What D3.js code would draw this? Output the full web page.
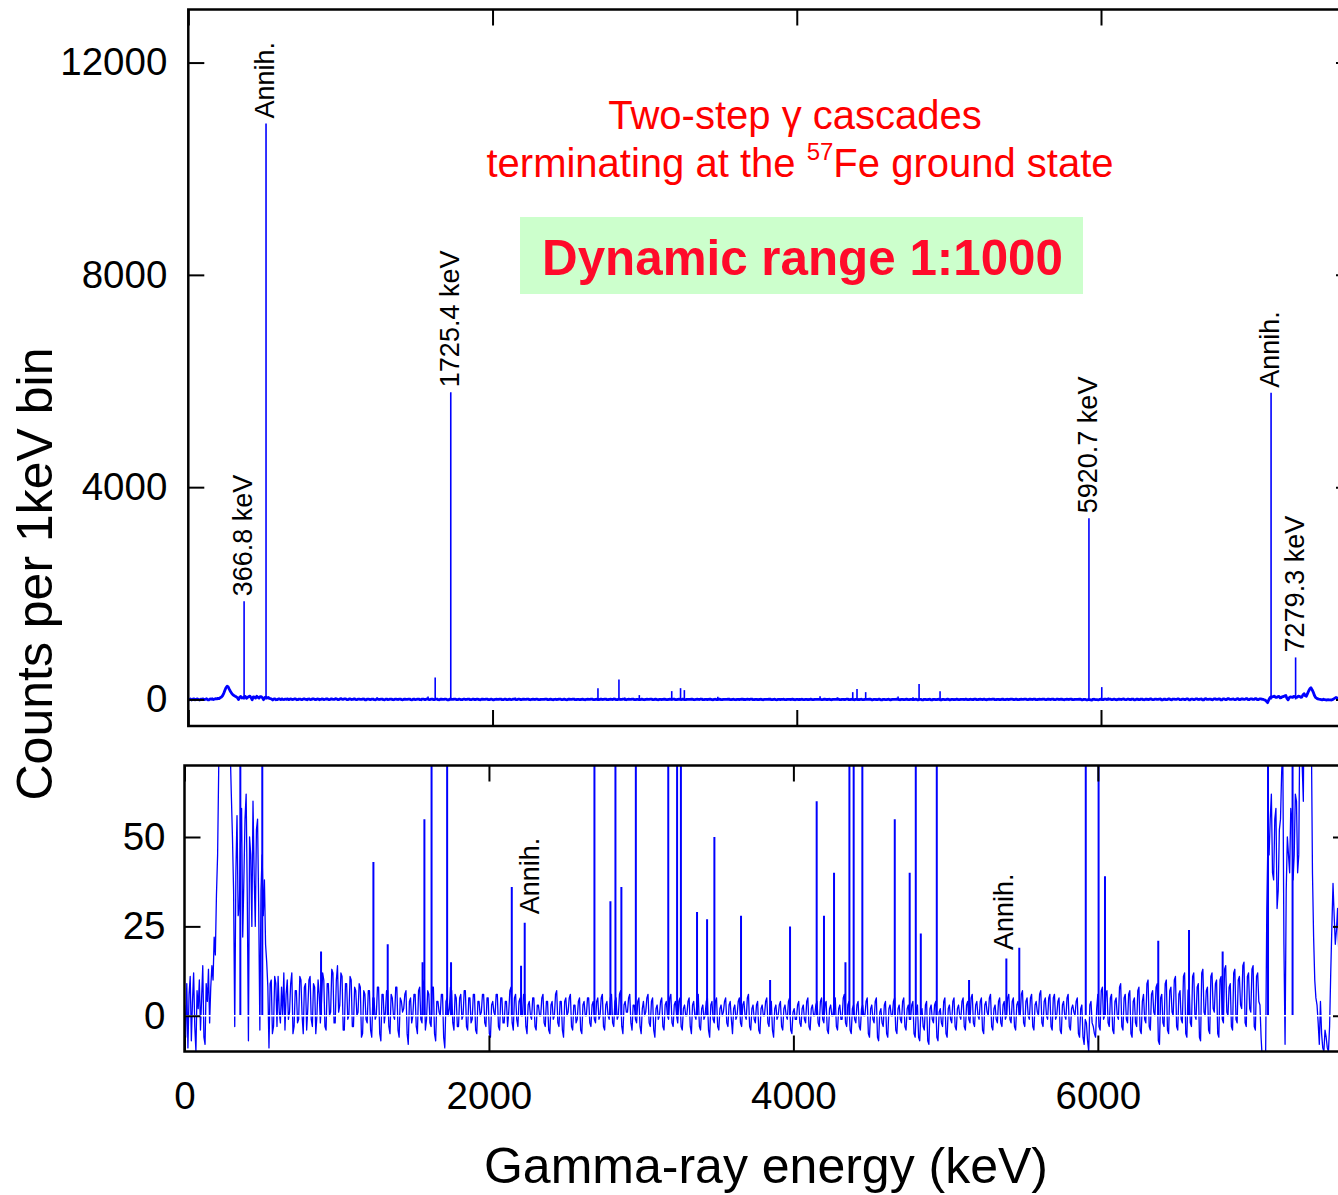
<!DOCTYPE html>
<html>
<head>
<meta charset="utf-8">
<script src="https://cdn.jsdelivr.net/npm/d3@7"></script>
<style>
  body { margin: 0; background: #fff; }
  svg { display: block; }
  text { font-family: "Liberation Sans", Arial, Helvetica, sans-serif; }
</style>
</head>
<body>
<svg id="chart" width="1338" height="1195"></svg>
<script>
// ---- spectrum: continuum sampled every 7.5 keV (counts per 1 keV bin) ----
const bgStart = 0;
const bgStep = 7.5;
const bgCounts = [
  // 0-292.5
  3,-6,9,-9,6,11,-7,4,12,-3, -10,7,2,10,-4,5,14,-6,-8,9,
  4,13,-2,8,14,10,22,17,34,45, 70,110,170,220,250,235,190,150,115,90,
  // 300-592.5
  75,62,50,35,-3,40,56,28,30,48, 58,22,38,55,62,33,-7,50,45,25,
  60,40,25,52,55,30,-4,35,45,28, 38,20,15,8,-9,9,10,-5,-3,11,
  // 600-892.5
  9,-3,11,1,-2,8,0,12,-4,6, 10,-1,1,9,12,-5,-3,7,7,-2,
  -1,11,10,0,-5,8,9,-4,2,10, 11,-1,-3,9,8,-5,0,10,6,-2,
  // 900-1192.5
  4,12,10,-3,-4,9,9,0,1,13, 12,-2,-2,10,14,1,3,12,11,-4,
  -4,9,9,-1,0,11,10,-3,-3,8, 7,0,1,9,8,-6,-5,7,6,-1,
  // 1200-1492.5
  -2,7,7,-4,-6,5,5,-1,0,8, 8,-5,-7,6,6,-2,1,7,7,-3,
  -5,6,5,0,-1,8,8,-4,-6,5, 4,1,2,6,7,-5,-8,4,5,-2,
  // 1500-1792.5
  0,6,6,-3,-5,7,8,-1,-2,9, 10,-4,-1,7,6,-2,-3,8,8,-5,
  -7,4,4,1,0,6,6,-6,-9,4, 5,0,2,8,7,-2,-4,6,5,-3,
  // 1800-2092.5
  -3,5,6,-1,0,7,7,-3,-4,5, 5,-2,-1,6,6,-4,-5,4,4,0,
  1,6,6,-2,-3,5,5,-5,-6,3, 4,1,0,6,6,-3,-4,5,5,-2,
  // 2100-2392.5
  -2,4,4,-3,1,7,8,-2,-4,5, 6,-1,-3,4,5,0,0,6,6,-3,
  -5,3,4,0,-1,5,5,-3,-4,3, 3,0,0,5,6,-2,-3,4,4,-4,
  // 2400-2692.5
  -5,3,4,-1,0,6,7,-2,-3,4, 4,-4,-6,4,5,0,1,5,6,-3,
  -4,3,3,-2,-1,4,5,-4,-5,3, 4,0,0,5,5,-2,-3,3,4,-1,
  // 2700-2992.5
  -2,4,5,-1,0,5,6,-3,-4,3, 4,0,-1,5,6,-2,-3,4,5,-1,
  0,6,7,-3,-5,3,4,1,1,5, 6,-2,-4,3,3,-1,-2,4,5,-3,
  // 3000-3292.5
  -5,2,4,0,1,5,6,-2,-3,4, 5,-4,-6,2,3,-1,0,4,5,-3,
  -4,3,4,0,-1,5,6,-2,-3,3, 4,0,-2,4,5,-3,-4,2,3,0,
  // 3300-3592.5
  0,4,5,-3,-5,3,4,0,-1,5, 6,-3,-4,2,3,-1,0,4,5,-4,
  -6,3,4,-1,-2,4,5,-3,-4,2, 3,0,1,4,5,-2,-3,3,4,-1,
  // 3600-3892.5
  -5,2,3,-1,0,4,5,-2,-3,3, 4,0,-1,5,6,-3,-4,2,3,-1,
  -2,3,4,-4,-5,2,3,0,0,4, 5,-2,-3,3,4,-4,-6,2,3,-1,
  // 3900-4192.5
  0,3,4,-3,-4,2,3,0,-1,4, 5,-4,-5,1,2,-1,-1,3,4,-2,
  -3,2,3,-1,-2,4,5,-3,-4,2, 3,0,0,3,4,-2,-3,4,5,-1,
  // 4200-4492.5
  -2,3,4,-4,-5,2,3,0,0,4, 5,-3,-4,2,3,-1,-1,5,6,-2,
  -3,3,4,-4,-5,2,3,-1,-2,3, 4,-3,-4,2,3,0,0,4,5,-5,
  // 4500-4792.5
  -6,2,3,-1,-2,4,5,-6,-7,1, 2,-2,-3,3,4,-5,-6,2,3,0,
  0,4,5,-4,-5,2,3,-1,-2,4, 5,-3,-4,2,3,-1,-1,3,4,-5,
  // 4800-5092.5
  -6,2,3,-6,-7,1,2,-3,-4,3, 4,-7,-8,2,3,-1,-2,3,4,-6,
  -7,1,2,-2,-3,4,5,-5,-6,2, 3,-1,-2,4,5,-3,-4,2,3,0,
  // 5100-5392.5
  -1,4,5,-3,-4,3,4,-1,-2,5, 6,-2,-3,3,4,0,-1,4,5,-4,
  -5,3,4,1,0,5,6,-3,-4,2, 3,-1,-2,4,5,-2,-3,3,4,-1,
  // 5400-5692.5
  0,5,6,-1,-2,4,5,-3,-4,3, 4,1,0,6,7,-2,-3,4,5,0,
  -1,5,6,-3,-4,3,4,1,0,6, 7,-2,-3,4,5,0,-1,5,6,-3,
  // 5700-5992.5
  -4,5,6,-1,0,4,5,-4,-5,3, 4,0,-1,5,6,-3,-4,2,3,1,
  0,4,5,-5,-6,2,3,-6,-8,-1, -2,-7,-10,3,4,-2,-3,-5,-6,2,
  // 6000-6292.5
  6,-3,-4,7,8,-1,0,6,7,-2, -3,5,6,-4,-5,4,5,0,-1,8,
  9,-3,-4,5,6,-1,-2,6,7,-5, -6,4,5,-2,-3,7,8,-4,-5,4,
  // 6300-6592.5
  6,-1,-2,9,10,-3,-4,6,7,1, 0,8,9,-7,-8,5,6,-2,-3,9,
  10,-4,-5,7,8,1,0,10,11,-3, -4,6,7,-1,-2,11,12,-5,-6,7,
  // 6600-6892.5
  8,-2,-3,11,12,0,-1,8,9,-6, -7,12,13,1,0,7,8,-4,-5,11,
  12,2,1,9,10,-5,-6,10,11,-1, -2,13,14,1,0,8,9,-3,-4,12,
  // 6900-7192.5
  13,-1,-2,10,11,3,2,14,15,-2, -3,11,12,2,1,13,14,-3,-4,11,
  12,4,3,-6,-12,-35,-60,-10,30,50, 45,55,62,40,38,55,58,30,35,52,
  // 7200-7492.5
  55,68,75,20,-8,35,50,45,40,58, 55,38,45,62,60,40,45,85,110,70,
  60,110,160,200,220,185,140,80,40,22, 10,5,3,-2,-8,4,-5,-9,-10,-4,
  // 7500-7642.5
  -6,-9,-10,-3,12,25,37,28,20,24, 30,18,10,20,25,17,15,22,20,18
];

// ---- discrete gamma lines: energy (keV) and peak counts ----
const peakEnergy = [366.8, 511, 897, 1241, 1335, 1564, 1576, 1623, 1725.4, 1751,
  2150, 2211, 2235, 2693, 2798, 2831, 2870, 2965, 3178, 3236, 3261, 3367, 3433,
  3481, 3656, 3847, 3978, 4153, 4201, 4267, 4342, 4368, 4396, 4453, 4666, 4764,
  4804, 4837, 4942, 5154, 5399, 5484, 5920.7, 6005, 6047, 6397, 6599, 6820,
  7118, 7279.3];
const peakCounts = [1850, 10850, 18, 43, 20, 15, 55, 415, 5790, 15,
  36, 14, 26, 213, 32, 376, 36, 82, 157, 213, 176, 29, 27,
  50, 28, 10, 25, 60, 28, 40, 15, 138, 195, 138, 55, 40,
  289, 23, 157, 10, 16, 19, 3415, 233, 39, 21, 24, 18,
  5780, 792];

// ---- annotations ----
const topLabelText = ["366.8 keV", "Annih.", "1725.4 keV", "5920.7 keV", "Annih.", "7279.3 keV"];
const topLabelEnergy = [366.8, 511, 1725.4, 5920.7, 7118, 7279.3];
const topLabelCounts = [1850, 10850, 5790, 3415, 5780, 792];
const botLabelText = ["Annih.", "Annih."];
const botLabelEnergy = [2279, 5392];
const botLabelCounts = [27, 17];

// ---- axes ----
const xTickValues = [0, 2000, 4000, 6000];
const topYTicks = [0, 4000, 8000, 12000];
const botYTicks = [0, 25, 50];
const xMax = 7650;

const blue = "#0000ff";
const svg = d3.select("#chart");

const spectrum = bgCounts.map((c, i) => ({ e: bgStart + i * bgStep, c }));
const peaks = peakEnergy.map((e, i) => ({ e, c: peakCounts[i] }));

const topBox = { x0: 188.3, x1: 1352, y0: 9.5, y1: 726 };
const botBox = { x0: 184.5, x1: 1349, y0: 765.5, y1: 1051.5 };

const xTop = d3.scaleLinear().domain([0, xMax]).range([topBox.x0, topBox.x1]);
const yTop = d3.scaleLinear().domain([-500, 13000]).range([topBox.y1, topBox.y0]);
const xBot = d3.scaleLinear().domain([0, xMax]).range([botBox.x0, botBox.x1]);
const yBot = d3.scaleLinear().domain([-10, 70]).range([botBox.y1, botBox.y0]);

function panel(id, box, x, y, yTicks, opts) {
  const g = svg.append("g");
  g.append("clipPath").attr("id", id)
    .append("rect")
    .attr("x", box.x0).attr("y", box.y0)
    .attr("width", box.x1 - box.x0).attr("height", box.y1 - box.y0);

  const plot = g.append("g").attr("clip-path", `url(#${id})`);

  // continuum trace
  plot.append("path")
    .datum(spectrum)
    .attr("fill", "none")
    .attr("stroke", blue)
    .attr("stroke-width", opts.lineWidth)
    .attr("stroke-linejoin", "round")
    .attr("d", d3.line().x(d => x(d.e)).y(d => y(d.c)));

  // gamma lines
  plot.selectAll("line.peak")
    .data(peaks)
    .join("line")
    .attr("class", "peak")
    .attr("x1", d => x(d.e)).attr("x2", d => x(d.e))
    .attr("y1", y(0)).attr("y2", d => y(d.c))
    .attr("stroke", blue)
    .attr("stroke-width", opts.peakWidth);

  if (opts.zeroLine) {
    plot.append("line")
      .attr("x1", box.x0).attr("x2", box.x1)
      .attr("y1", y(0)).attr("y2", y(0))
      .attr("stroke", "#fff").attr("stroke-width", 1.4);
  }

  const tick = 16;
  // left axis with labels
  const left = g.append("g").attr("transform", `translate(${box.x0},0)`)
    .call(d3.axisLeft(y).tickValues(yTicks).tickSize(-tick).tickPadding(opts.yPad).tickFormat(d3.format("d")));
  // right, top, bottom ticks
  const right = g.append("g").attr("transform", `translate(${box.x1},0)`)
    .call(d3.axisRight(y).tickValues(yTicks).tickSize(-tick).tickFormat(""));
  const topAx = g.append("g").attr("transform", `translate(0,${box.y0})`)
    .call(d3.axisTop(x).tickValues(xTickValues).tickSize(-tick).tickFormat(""));
  const botAx = g.append("g").attr("transform", `translate(0,${box.y1})`)
    .call(d3.axisBottom(x).tickValues(xTickValues).tickSize(-tick).tickPadding(30)
      .tickFormat(opts.xLabels ? d3.format("d") : ""));

  [left, right, topAx, botAx].forEach(a => {
    a.select(".domain").remove();
    a.selectAll(".tick line").attr("stroke", "#000").attr("stroke-width", 2);
    a.selectAll(".tick text").attr("fill", "#000").attr("font-size", 38.5)
      .attr("font-family", "'Liberation Sans', Arial, sans-serif");
  });

  // frame
  g.append("rect")
    .attr("x", box.x0).attr("y", box.y0)
    .attr("width", box.x1 - box.x0).attr("height", box.y1 - box.y0)
    .attr("fill", "none").attr("stroke", "#000").attr("stroke-width", 2.5);
  return g;
}

panel("clipTop", topBox, xTop, yTop, topYTicks, { lineWidth: 2.8, peakWidth: 1.6, yPad: 21, xLabels: false, zeroLine: false });
panel("clipBot", botBox, xBot, yBot, botYTicks, { lineWidth: 1.3, peakWidth: 2, yPad: 19, xLabels: true, zeroLine: true });

// peak labels, rotated, just above each line
function peakLabels(texts, energies, counts, x, y) {
  svg.append("g").selectAll("text")
    .data(texts)
    .join("text")
    .attr("transform", (d, i) => `translate(${x(energies[i]) + 8},${y(counts[i]) - 5}) rotate(-90)`)
    .attr("font-size", 27)
    .attr("fill", "#000")
    .text(d => d);
}
peakLabels(topLabelText, topLabelEnergy, topLabelCounts, xTop, yTop);
peakLabels(botLabelText, botLabelEnergy, botLabelCounts, xBot, yBot);

// title text in red
const title = svg.append("g").attr("fill", "#ff0000").attr("font-size", 40).attr("text-anchor", "middle");
title.append("text").attr("x", 795).attr("y", 129).text("Two-step \u03b3 cascades");
const t2 = title.append("text").attr("x", 800).attr("y", 177);
t2.append("tspan").text("terminating at the ");
t2.append("tspan").attr("font-size", 24).attr("dy", -17).text("57");
t2.append("tspan").attr("dy", 17).text("Fe ground state");

// dynamic range box
svg.append("rect").attr("x", 520).attr("y", 217).attr("width", 563).attr("height", 77).attr("fill", "#ccffcc");
svg.append("text")
  .attr("x", 542).attr("y", 275)
  .attr("font-family", "'Comic Sans MS', 'DejaVu Sans', sans-serif")
  .attr("font-weight", "bold")
  .attr("font-size", 50)
  .attr("fill", "#ff0a2a")
  .attr("textLength", 521)
  .attr("lengthAdjust", "spacingAndGlyphs")
  .text("Dynamic range 1:1000");

// axis titles
svg.append("text")
  .attr("transform", "translate(52,574) rotate(-90)")
  .attr("text-anchor", "middle")
  .attr("font-size", 50)
  .attr("fill", "#000")
  .text("Counts per 1keV bin");
svg.append("text")
  .attr("x", 766).attr("y", 1183)
  .attr("text-anchor", "middle")
  .attr("font-size", 50)
  .attr("fill", "#000")
  .text("Gamma-ray energy (keV)");
</script>
</body>
</html>
